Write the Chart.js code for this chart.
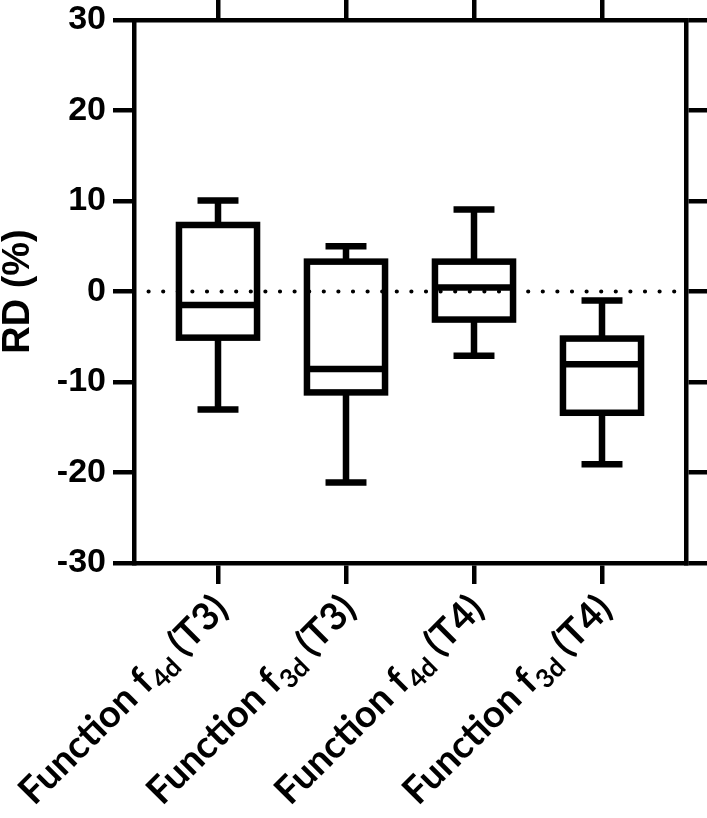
<!DOCTYPE html>
<html>
<head>
<meta charset="utf-8">
<script src="https://cdn.jsdelivr.net/npm/chart.js@4"></script>
<style>
  body { margin: 0; background: #fff; }
</style>
</head>
<body>
<canvas id="rdChart" width="707" height="818"></canvas>
<script>
// labels are split so the subscript can be drawn smaller
const labelMain = ["Function f", "Function f", "Function f", "Function f"];
const labelSub = ["4d", "3d", "4d", "3d"];
const labelTail = ["(T3)", "(T3)", "(T4)", "(T4)"];

const whiskerMax = [10.05, 5.0, 9.05, -1.0];
const q3 = [7.35, 3.3, 3.3, -5.2];
const median = [-1.5, -8.55, 0.45, -8.05];
const q1 = [-5.1, -11.15, -3.1, -13.4];
const whiskerMin = [-13.05, -21.1, -7.1, -19.1];

const yTicks = [-30, -20, -10, 0, 10, 20, 30];

const black = "#000";
const axisWidth = 4.5;

// box plot marks, positioned with the chart scales
const boxPlot = {
    id: "boxPlot",
    afterDatasetsDraw(chart) {
        const { ctx, chartArea, scales: { x, y } } = chart;
        ctx.save();

        // dotted zero line
        const y0 = y.getPixelForValue(0);
        ctx.strokeStyle = black;
        ctx.lineWidth = 4.2;
        ctx.lineCap = "round";
        ctx.setLineDash([0, 14.6]);
        ctx.beginPath();
        ctx.moveTo(chartArea.left + 14.6, y0);
        ctx.lineTo(chartArea.right - 6, y0);
        ctx.stroke();
        ctx.setLineDash([]);

        ctx.lineWidth = 6.5;
        ctx.lineCap = "butt";
        ctx.lineJoin = "miter";
        labelMain.forEach((_, i) => {
            const cx = x.getPixelForValue(i);
            const left = x.getPixelForValue(i - 0.305);
            const right = x.getPixelForValue(i + 0.305);
            const capL = x.getPixelForValue(i - 0.16);
            const capR = x.getPixelForValue(i + 0.16);
            const pMax = y.getPixelForValue(whiskerMax[i]);
            const pQ3 = y.getPixelForValue(q3[i]);
            const pMed = y.getPixelForValue(median[i]);
            const pQ1 = y.getPixelForValue(q1[i]);
            const pMin = y.getPixelForValue(whiskerMin[i]);

            ctx.beginPath();
            ctx.moveTo(cx, pQ3); ctx.lineTo(cx, pMax);
            ctx.moveTo(capL, pMax); ctx.lineTo(capR, pMax);
            ctx.moveTo(cx, pQ1); ctx.lineTo(cx, pMin);
            ctx.moveTo(capL, pMin); ctx.lineTo(capR, pMin);
            ctx.moveTo(left, pMed); ctx.lineTo(right, pMed);
            ctx.stroke();

            ctx.strokeRect(left, pQ3, right - left, pQ1 - pQ3);
        });
        ctx.restore();
    },
};

// rotated category labels with subscripts
const mainFont = "bold 38px Lato, 'DejaVu Sans', sans-serif";
const subFont = "bold 26px Lato, 'DejaVu Sans', sans-serif";
const slantedLabels = {
    id: "slantedLabels",
    afterDraw(chart) {
        const { ctx, chartArea, scales: { x } } = chart;
        labelMain.forEach((main, i) => {
            ctx.save();
            ctx.translate(x.getPixelForValue(i) + 2, chartArea.bottom + 38);
            ctx.rotate(-Math.PI / 4);
            ctx.fillStyle = black;
            ctx.textBaseline = "alphabetic";
            ctx.textAlign = "left";

            ctx.font = mainFont;
            const w1 = ctx.measureText(main).width;
            const tail = " " + labelTail[i];
            const w3 = ctx.measureText(tail).width;
            ctx.font = subFont;
            const w2 = ctx.measureText(labelSub[i]).width;

            let pos = -(w1 + w2 + w3);
            ctx.font = mainFont;
            ctx.fillText(main, pos, 14);
            pos += w1;
            ctx.font = subFont;
            ctx.fillText(labelSub[i], pos + 1, 22);
            pos += w2;
            ctx.font = mainFont;
            ctx.fillText(tail, pos, 14);
            ctx.restore();
        });
    },
};

const categoryTicks = (axis) => {
    axis.ticks = labelMain.map((_, i) => ({ value: i }));
};

const frameGrid = {
    display: true,
    drawOnChartArea: false,
    drawTicks: true,
    tickLength: 21,
    color: black,
    tickColor: black,
    lineWidth: axisWidth,
    tickWidth: axisWidth,
};
const frameBorder = { display: true, color: black, width: axisWidth };

const ctx = document.getElementById("rdChart").getContext("2d");

window.rdChart = new Chart(ctx, {
    type: "scatter",
    data: {
        datasets: [
            {
                label: "median",
                data: median.map((m, i) => ({ x: i, y: m })),
                pointRadius: 0,
                showLine: false,
            },
        ],
    },
    options: {
        responsive: false,
        animation: false,
        layout: { padding: 0 },
        scales: {
            x: {
                type: "linear",
                position: "bottom",
                min: -0.65625,
                max: 3.65625,
                afterBuildTicks: categoryTicks,
                afterFit: (s) => { s.height = 255; },
                ticks: { display: false },
                grid: frameGrid,
                border: frameBorder,
            },
            x2: {
                type: "linear",
                position: "top",
                min: -0.65625,
                max: 3.65625,
                afterBuildTicks: categoryTicks,
                afterFit: (s) => { s.height = 20; },
                ticks: { display: false },
                grid: frameGrid,
                border: frameBorder,
            },
            y: {
                type: "linear",
                position: "left",
                min: -30,
                max: 30,
                afterBuildTicks: (axis) => { axis.ticks = yTicks.map((v) => ({ value: v })); },
                afterFit: (s) => { s.width = 134; },
                ticks: {
                    color: black,
                    padding: 7,
                    font: { family: "'Liberation Sans', Arial, sans-serif", size: 34, weight: "bold", lineHeight: 0.7 },
                },
                grid: frameGrid,
                border: frameBorder,
                title: {
                    display: true,
                    text: "RD (%)",
                    color: black,
                    padding: 0,
                    font: { family: "'Liberation Sans', Arial, sans-serif", size: 38, weight: "bold", lineHeight: 1 },
                },
            },
            y2: {
                type: "linear",
                position: "right",
                min: -30,
                max: 30,
                afterBuildTicks: (axis) => { axis.ticks = yTicks.map((v) => ({ value: v })); },
                afterFit: (s) => { s.width = 21; },
                ticks: { display: false },
                grid: frameGrid,
                border: frameBorder,
            },
        },
        plugins: {
            legend: { display: false },
            tooltip: { enabled: false },
        },
    },
    plugins: [boxPlot, slantedLabels],
});
</script>
</body>
</html>
